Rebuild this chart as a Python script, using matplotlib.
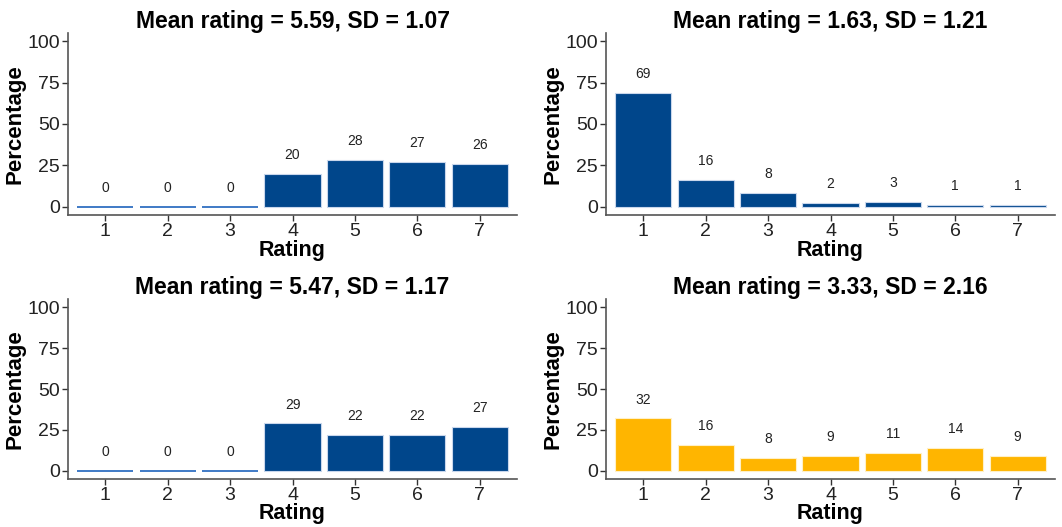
import matplotlib
matplotlib.use("Agg")
import matplotlib.pyplot as plt

plt.rcParams['font.family'] = ['Liberation Sans', 'DejaVu Sans']

ratings = [1, 2, 3, 4, 5, 6, 7]
pct_a = [0, 0, 0, 20, 28, 27, 26]
pct_b = [69, 16, 8, 2, 3, 1, 1]
pct_c = [0, 0, 0, 29, 22, 22, 27]
pct_d = [32, 16, 8, 9, 11, 14, 9]
titles = [
    "Mean rating = 5.59, SD = 1.07",
    "Mean rating = 1.63, SD = 1.21",
    "Mean rating = 5.47, SD = 1.17",
    "Mean rating = 3.33, SD = 2.16",
]
y_ticks = [0, 25, 50, 75, 100]

BLUE = "#00468B"
YELLOW = "#FFB500"

W, H = 1062, 527
fig = plt.figure(figsize=(W / 100, H / 100), dpi=100)

# axes boxes in pixel coords: (left, top, right, bottom)
boxes = [
    (68, 33, 517, 215),
    (606, 33, 1055, 215),
    (68, 299, 517, 479),
    (606, 299, 1055, 479),
]
panels = [
    (pct_a, BLUE),
    (pct_b, BLUE),
    (pct_c, BLUE),
    (pct_d, YELLOW),
]

for i, ((vals, color), (l, t, r, b), title) in enumerate(zip(panels, boxes, titles)):
    ax = fig.add_axes([l / W, 1 - b / H, (r - l) / W, (b - t) / H])
    if color == BLUE:
        edges = ["#3f7ac6" if v == 0 else "#c9d7ec" for v in vals]
        widths = [1.4 if v == 0 else 0.8 for v in vals]
    else:
        edges = ["#fff0c8"] * len(vals)
        widths = [0.8] * len(vals)
    ax.bar(ratings, vals, width=0.9, color=color, edgecolor=edges, linewidth=widths)
    for x, v in zip(ratings, vals):
        ax.text(x, v + 11.5, f"{v}", ha="center", va="center",
                fontsize=10, color="#222222")
    ax.set_xlim(0.4, 7.6)
    ax.set_ylim(-5, 105)
    ax.set_xticks(ratings)
    ax.set_yticks(y_ticks)
    ax.tick_params(axis="both", labelsize=14, colors="#333333",
                   labelcolor="#222222", length=4, width=1, pad=2)
    for side in ("top", "right"):
        ax.spines[side].set_visible(False)
    for side in ("left", "bottom"):
        ax.spines[side].set_color("#555555")
        ax.spines[side].set_linewidth(1.2)
    ax.set_xlabel("Rating", fontsize=15.5, fontweight="bold",
                  labelpad=0 if i < 2 else -1)
    ax.set_ylabel("Percentage", fontsize=16, fontweight="bold", labelpad=1)
    ax.set_title(title, fontsize=16.5, fontweight="bold", pad=2)

fig.savefig("out.png", dpi=100, facecolor="white")
